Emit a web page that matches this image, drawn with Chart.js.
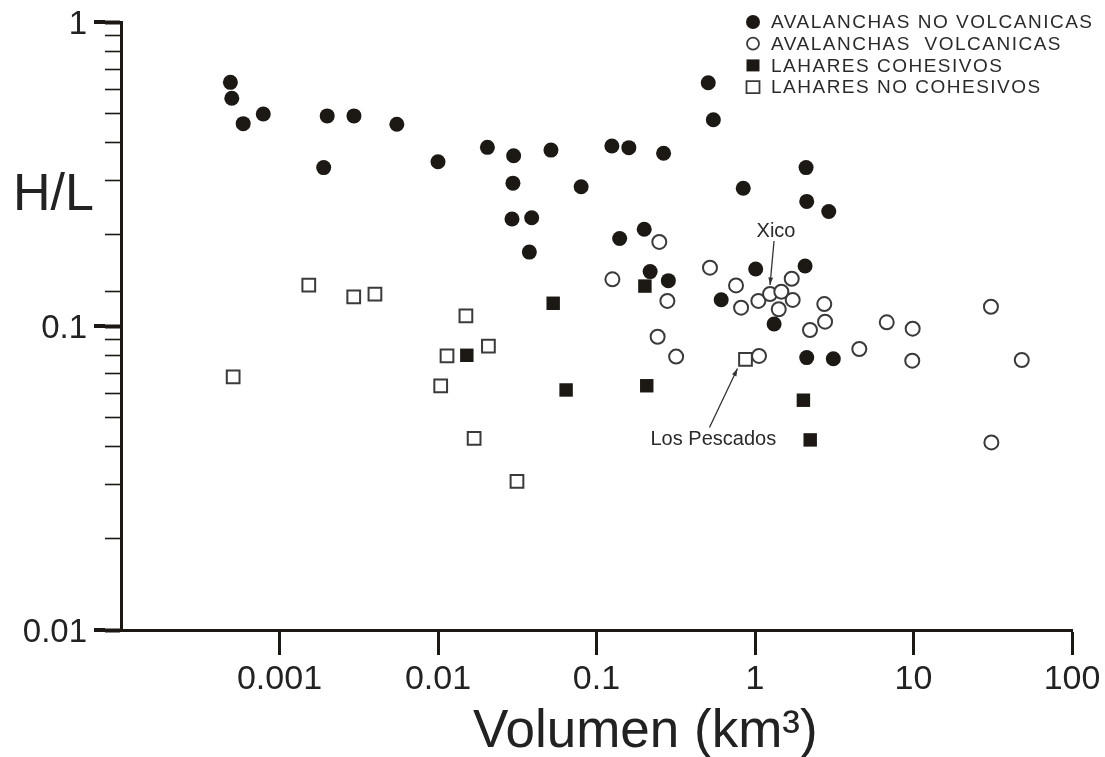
<!DOCTYPE html>
<html lang="es">
<head>
<meta charset="utf-8">
<title>H/L vs Volumen</title>
<script src="https://cdn.jsdelivr.net/npm/chart.js"></script>
<style>
  html, body { margin: 0; padding: 0; background: #fff; }
  #wrap { width: 1105px; height: 757px; position: relative; }
</style>
</head>
<body>
<div id="wrap"><canvas id="hlChart"></canvas></div>
<script>
  // series labels (legend text)
  const seriesLabels = ['AVALANCHAS NO VOLCANICAS', 'AVALANCHAS  VOLCANICAS', 'LAHARES COHESIVOS', 'LAHARES NO COHESIVOS'];

  // AVALANCHAS NO VOLCANICAS
  const noVolcX = [0.00049, 0.0005, 0.00059, 0.00079, 0.0019, 0.002, 0.00295, 0.0055, 0.01, 0.0205, 0.03, 0.0297, 0.0293, 0.039, 0.0377, 0.0516, 0.08, 0.125, 0.16, 0.265, 0.14, 0.2, 0.218, 0.284, 0.507, 0.546, 0.612, 0.843, 1.01, 1.32, 2.1, 2.12, 2.92, 2.07, 2.12, 3.12];
  const noVolcY = [0.633, 0.561, 0.463, 0.498, 0.332, 0.491, 0.491, 0.461, 0.347, 0.387, 0.363, 0.295, 0.225, 0.227, 0.175, 0.379, 0.287, 0.391, 0.386, 0.37, 0.194, 0.208, 0.151, 0.141, 0.631, 0.477, 0.122, 0.284, 0.154, 0.1015, 0.332, 0.257, 0.238, 0.1575, 0.0787, 0.078];

  // AVALANCHAS VOLCANICAS
  const volcX = [0.249, 0.126, 0.28, 0.52, 0.759, 0.817, 1.05, 1.244, 1.466, 1.705, 1.729, 1.412, 2.736, 2.767, 2.223, 0.243, 0.318, 1.06, 4.55, 6.78, 9.88, 9.82, 30.8, 48.2, 31.0];
  const volcY = [0.189, 0.1424, 0.1209, 0.1555, 0.136, 0.1149, 0.1209, 0.1274, 0.1297, 0.143, 0.1218, 0.1135, 0.1181, 0.1033, 0.097, 0.0922, 0.0793, 0.0797, 0.084, 0.1028, 0.098, 0.0769, 0.1157, 0.0773, 0.0414];

  // LAHARES COHESIVOS
  const cohX = [0.0152, 0.0533, 0.0643, 0.202, 0.2075, 2.02, 2.23];
  const cohY = [0.0801, 0.1188, 0.0616, 0.1353, 0.0636, 0.057, 0.0422];

  // LAHARES NO COHESIVOS
  const noCohX = [0.00051, 0.00153, 0.00294, 0.004, 0.015, 0.0114, 0.0208, 0.0104, 0.0169, 0.0315, 0.871];
  const noCohY = [0.068, 0.1364, 0.1246, 0.1272, 0.1079, 0.0798, 0.0858, 0.0635, 0.0427, 0.0308, 0.0776];

  // axes
  const xRange = [0.0001, 100];
  const xTickValues = [0.001, 0.01, 0.1, 1, 10, 100];
  const xTickLabels = ['0.001', '0.01', '0.1', '1', '10', '100'];
  const yRange = [0.01, 1];
  const yTickValues = [0.01, 0.02, 0.03, 0.04, 0.05, 0.06, 0.07, 0.08, 0.09, 0.1, 0.13, 0.2, 0.3, 0.4, 0.5, 0.6, 0.7, 0.8, 0.9, 1];
  const yMajorValues = [0.01, 0.1, 1];
  const yTickLabels = ['0.01', '0.1', '1'];

  const xTitle = 'Volumen (km³)';
  const yTitle = 'H/L';

  // labelled points: [series index, point index, text]
  const callouts = [[1, 7, 'Xico'], [3, 10, 'Los Pescados']];

  const ink = '#1c1814';
  const edge = '#3a3a3a';
  const fontFam = '"Liberation Sans", Arial, Helvetica, sans-serif';

  const pts = (xs, ys) => xs.map((x, i) => ({ x: x, y: ys[i] }));

  const datasets = [
    { label: seriesLabels[0], data: pts(noVolcX, noVolcY), pointStyle: 'circle', pointRadius: 7.5,
      backgroundColor: ink, borderColor: ink, borderWidth: 0 },
    { label: seriesLabels[1], data: pts(volcX, volcY), pointStyle: 'circle', pointRadius: 7,
      backgroundColor: '#fff', borderColor: edge, borderWidth: 2 },
    { label: seriesLabels[2], data: pts(cohX, cohY), pointStyle: 'rect', pointRadius: 9.5,
      backgroundColor: ink, borderColor: ink, borderWidth: 0 },
    { label: seriesLabels[3], data: pts(noCohX, noCohY), pointStyle: 'rect', pointRadius: 9,
      backgroundColor: '#fff', borderColor: edge, borderWidth: 2 }
  ];

  function arrow(ctx, x1, y1, x2, y2) {
    ctx.beginPath();
    ctx.moveTo(x1, y1);
    ctx.lineTo(x2, y2);
    ctx.stroke();
    const a = Math.atan2(y2 - y1, x2 - x1);
    ctx.beginPath();
    ctx.moveTo(x2, y2);
    ctx.lineTo(x2 - 8 * Math.cos(a - 0.3), y2 - 8 * Math.sin(a - 0.3));
    ctx.lineTo(x2 - 8 * Math.cos(a + 0.3), y2 - 8 * Math.sin(a + 0.3));
    ctx.closePath();
    ctx.fill();
  }

  const decor = {
    id: 'decor',
    afterDraw(chart) {
      const ctx = chart.ctx;
      const area = chart.chartArea;
      const xs = chart.scales.x, ys = chart.scales.y;
      ctx.save();

      // longer major ticks on the y axis
      ctx.strokeStyle = ink;
      ctx.lineWidth = 4;
      yMajorValues.forEach(v => {
        const y = ys.getPixelForValue(v);
        ctx.beginPath();
        ctx.moveTo(area.left - 27, y);
        ctx.lineTo(area.left - 16, y);
        ctx.stroke();
      });

      // axis titles
      ctx.fillStyle = '#222';
      ctx.textBaseline = 'alphabetic';
      ctx.textAlign = 'left';
      ctx.font = '52px ' + fontFam;
      ctx.fillText(yTitle, 13, 210);
      ctx.font = '53px ' + fontFam;
      ctx.fillText(xTitle, 473, 747);

      // legend
      ctx.font = '19px ' + fontFam;
      ctx.letterSpacing = '1.5px';
      ctx.textBaseline = 'middle';
      chart.data.datasets.forEach((ds, i) => {
        const cy = 22 + i * 21.7;
        const cx = 753;
        ctx.fillStyle = ds.backgroundColor;
        ctx.strokeStyle = ds.borderColor;
        ctx.lineWidth = 1.8;
        ctx.beginPath();
        if (ds.pointStyle === 'circle') {
          ctx.arc(cx, cy, ds.borderWidth ? 6 : 7, 0, Math.PI * 2);
        } else {
          ctx.rect(cx - 6.5, cy - 6, 13, 12);
        }
        ctx.fill();
        if (ds.borderWidth) ctx.stroke();
        ctx.fillStyle = '#2a2a2a';
        ctx.fillText(ds.label, 771, cy + 1);
      });
      ctx.letterSpacing = '0px';

      // callouts
      ctx.font = '20px ' + fontFam;
      ctx.strokeStyle = '#333';
      ctx.fillStyle = '#333';
      ctx.lineWidth = 1.3;
      callouts.forEach(([s, idx, text]) => {
        const p = chart.data.datasets[s].data[idx];
        const px = xs.getPixelForValue(p.x), py = ys.getPixelForValue(p.y);
        if (text === 'Xico') {
          arrow(ctx, px + 4, py - 53, px, py - 9);
          ctx.fillStyle = '#2a2a2a';
          ctx.textAlign = 'center';
          ctx.textBaseline = 'middle';
          ctx.fillText(text, px + 6, py - 63);
        } else {
          arrow(ctx, px - 36, py + 68, px - 8, py + 9);
          ctx.fillStyle = '#2a2a2a';
          ctx.textAlign = 'left';
          ctx.textBaseline = 'middle';
          ctx.fillText(text, px - 95, py + 80);
        }
        ctx.fillStyle = '#333';
      });

      ctx.restore();
    }
  };

  Chart.defaults.font.family = fontFam;

  new Chart(document.getElementById('hlChart'), {
    type: 'scatter',
    data: { datasets: datasets },
    options: {
      responsive: true,
      maintainAspectRatio: false,
      animation: false,
      events: [],
      layout: { padding: { top: 22, right: 33, left: 0, bottom: 0 } },
      plugins: {
        legend: { display: false },
        tooltip: { enabled: false }
      },
      scales: {
        x: {
          type: 'logarithmic',
          min: xRange[0],
          max: xRange[1],
          afterBuildTicks: s => { s.ticks = xTickValues.map(v => ({ value: v, major: true })); },
          afterFit: s => { s.height = 127; s.paddingLeft = 0; s.paddingRight = 0; },
          border: { display: true, width: 3, color: ink },
          grid: { drawOnChartArea: false, drawTicks: true, tickLength: 25, tickWidth: 3, tickColor: ink },
          ticks: {
            autoSkip: false,
            maxRotation: 0,
            padding: 4,
            color: '#222',
            font: { size: 34 },
            callback: v => {
              const i = xTickValues.indexOf(v);
              return i >= 0 ? xTickLabels[i] : '';
            }
          }
        },
        y: {
          type: 'logarithmic',
          min: yRange[0],
          max: yRange[1],
          afterBuildTicks: s => { s.ticks = yTickValues.map(v => ({ value: v, major: yMajorValues.includes(v) })); },
          afterFit: s => { s.width = 121; s.paddingTop = 0; s.paddingBottom = 0; },
          border: { display: true, width: 3, color: ink },
          grid: {
            drawOnChartArea: false,
            drawTicks: true,
            tickLength: 16,
            tickColor: ink,
            tickWidth: c => (c.tick && yMajorValues.includes(c.tick.value)) ? 4 : 1.6
          },
          ticks: {
            autoSkip: false,
            padding: 18,
            labelOffset: 3,
            color: '#222',
            font: { size: 33 },
            callback: v => {
              const i = yMajorValues.indexOf(v);
              return i >= 0 ? yTickLabels[i] : '';
            }
          }
        }
      }
    },
    plugins: [decor]
  });
</script>
</body>
</html>
